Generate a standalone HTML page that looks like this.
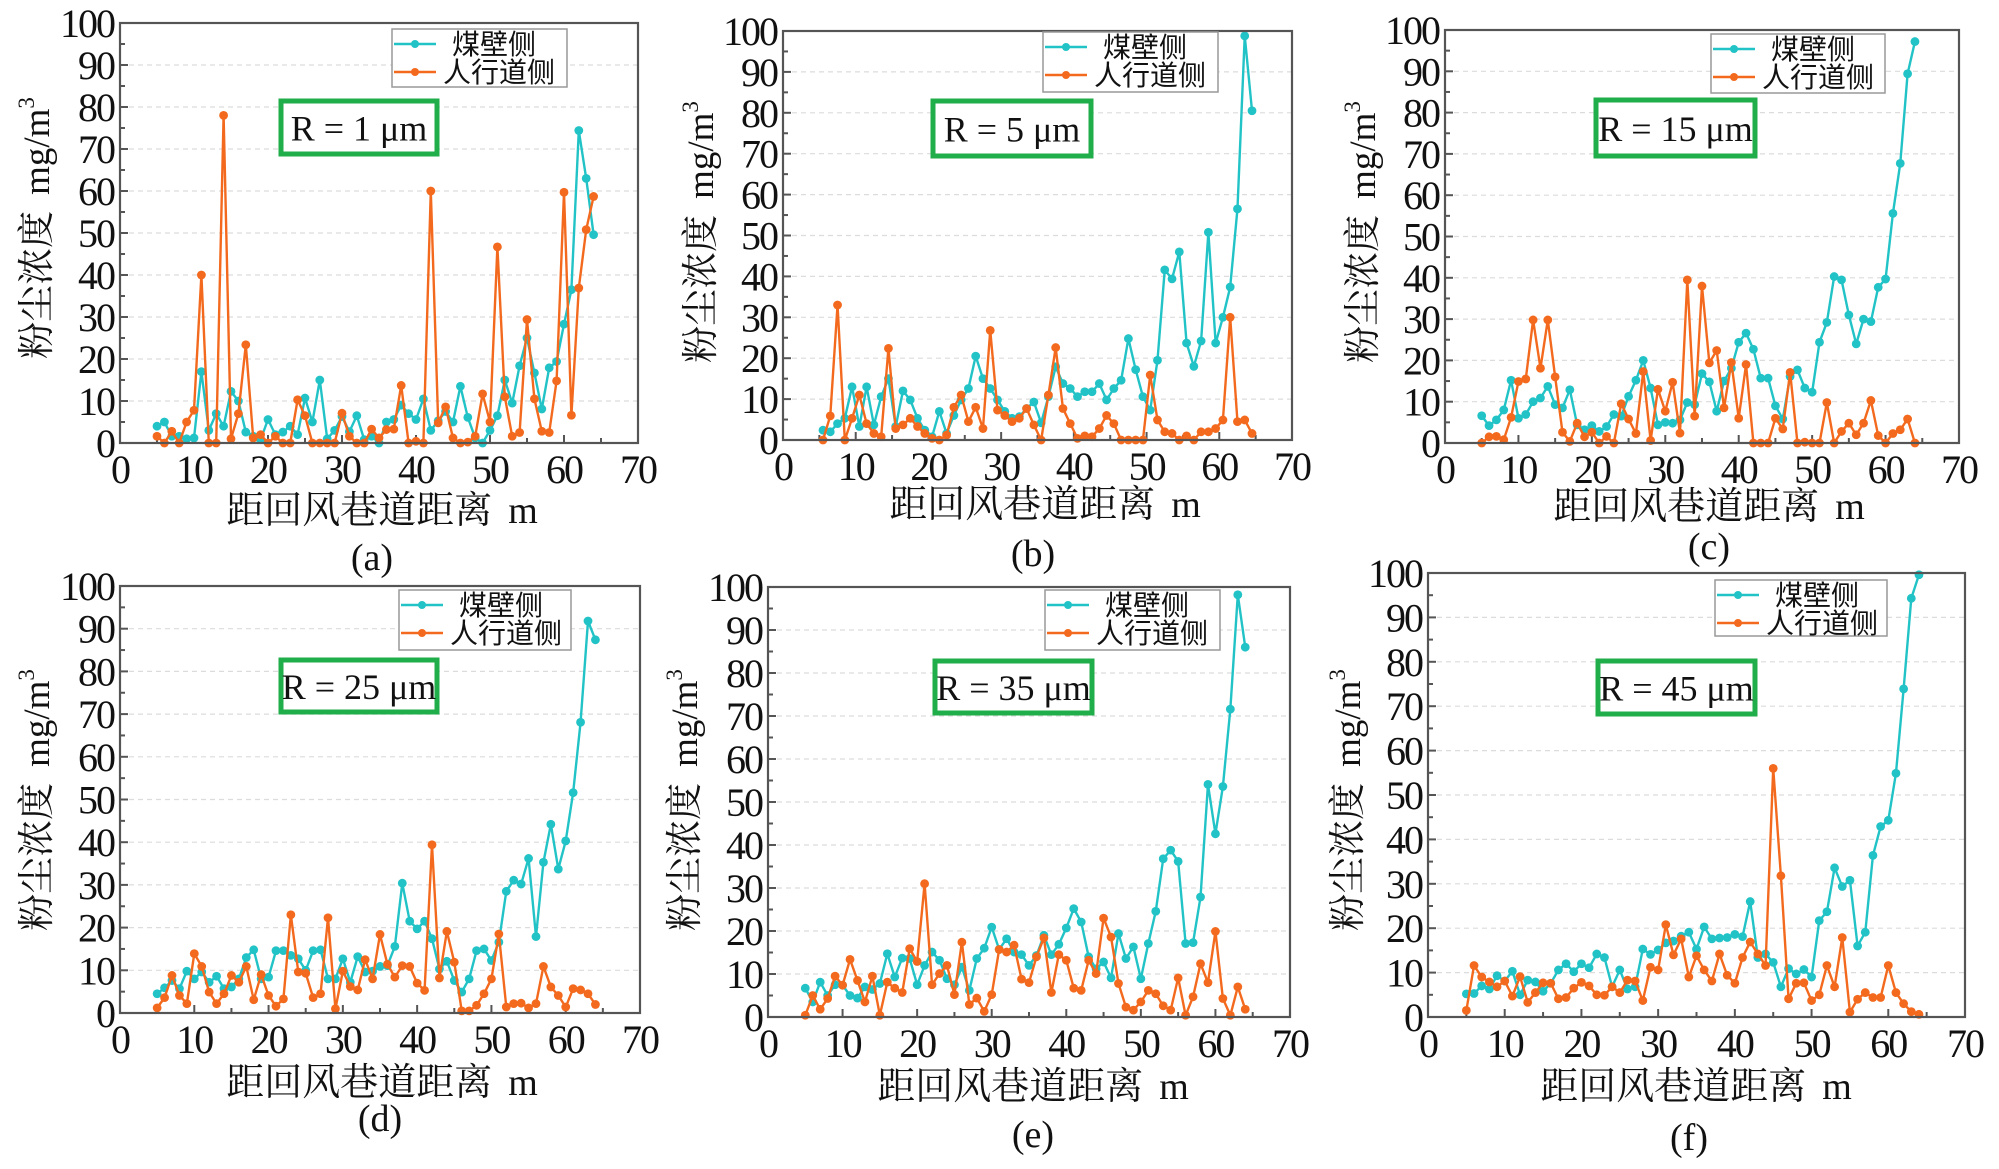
<!DOCTYPE html>
<html><head><meta charset="utf-8"><style>
html,body{margin:0;padding:0;background:#fff;}
svg{display:block;font-family:"Liberation Serif","Noto Serif CJK SC",serif;}
.cjk{font-family:"Noto Serif CJK SC","Liberation Serif",serif;}
.lgt{font-family:"Noto Sans CJK SC",sans-serif;}
</style></head><body>
<svg id="fig" width="1999" height="1169" viewBox="0 0 1999 1169" xmlns="http://www.w3.org/2000/svg"></svg>
<script>
const xTicks = [0,10,20,30,40,50,60,70];
const yTicks = [0,10,20,30,40,50,60,70,80,90,100];
const panelLabels = ["(a)","(b)","(c)","(d)","(e)","(f)"];
const radiusLabels = ["R = 1 μm","R = 5 μm","R = 15 μm","R = 25 μm","R = 35 μm","R = 45 μm"];
const seriesNames = ["煤壁侧","人行道侧"];
const xStart = [5,5.5,5,5,5,5];

const coalA = [4,5,1.6,1.6,1,1.2,17,3,7,4,12.3,10,2.6,1.6,0.8,5.6,2,2.6,4,2,10.7,5,15,1,3,6.3,2.7,6.5,0.8,1.6,0,5,5.6,9,7,5.6,10.5,3,5.3,7.5,5,13.5,6.1,1.2,0,3,6.5,15,9.5,18.4,25,16.7,8.1,17.9,19.4,28.3,36.5,74.4,63,49.6];
const walkA = [1.6,0,2.8,0,5,7.8,40,0,0,78,1,7,23.4,1.2,2,0,1.6,0,0,10.3,6.5,0,0,0,0,7.1,1.6,0,0,3.3,1.2,3.2,3.3,13.7,0,0.4,0,60,4.8,8.6,1.2,0,0.2,1.6,11.7,5,46.7,11,1.6,2.5,29.4,10.5,2.8,2.5,14.8,59.7,6.6,36.9,50.8,58.7];
const coalB = [2.4,2,4,5.3,13,3.3,13,3.7,10.6,15,3.3,12,9.8,5.3,2.4,0.8,7,1.6,6,9.8,12.6,20.5,15,12.6,9.8,7,5.3,5.7,7.7,9.3,4.2,10.6,17.9,13.8,12.6,10.6,11.8,11.8,13.8,9.8,12.6,14.6,24.8,17.2,10.6,7.3,19.5,41.6,39.4,46,23.7,18,24.2,50.8,23.7,30,37.4,56.5,98.8,80.5];
const walkB = [0,5.9,33,0,5.3,11,4,1.6,0.8,22.4,2.8,3.7,5.3,3.3,1.6,0.4,0,1.2,8,11,4.5,8,2.8,26.8,7.3,6,4.5,5.3,7.7,3.7,0,11,22.6,7.7,4,0.4,1,0.8,2.8,6,4,0,0,0,0,15.9,4.9,2,1.6,0,1,0,2,2,2.8,4.9,30,4.5,4.9,1.6];
const coalC = [6.6,4.2,5.6,8,15.2,6,6.9,10,10.9,13.7,9.3,8.5,12.9,4.4,3.2,4.2,2.8,4,6.9,6.5,11.3,15.2,20,13.3,4.4,5,4.8,5.6,9.8,9.3,16.8,14.8,7.7,15,18.1,24.4,26.6,22.7,15.7,15.7,9,5.8,16.1,17.7,13.3,12.3,24.4,29.2,40.3,39.5,31,24,30,29.4,37.7,39.7,55.6,67.7,89.4,97.2];
const walkC = [0,1.5,1.6,0.8,6.2,14.9,15.5,29.8,18.1,29.8,16,2.6,0.4,4.8,1.5,2.6,0,1.6,0,9.5,5.8,2.3,17.3,0.6,13,7.7,14.7,2.4,39.5,6.5,38,19.4,22.4,8.5,19.5,6,19,0,0,0,6,3.4,17.1,0,0.2,0,0,9.8,0,2.8,4.8,2,4.8,10.3,1.8,0,2.3,3.2,5.8,0];
const coalD = [4.5,5.9,7.6,5.7,9.8,8,9.6,7.2,8.6,5.7,6.1,8,13,14.8,8,8.4,14.6,14.6,13.5,12.7,10,14.6,14.8,8,8,12.7,7.2,13.2,9.6,9.8,10.9,11.1,15.6,30.4,21.5,19.7,21.5,17.4,10.3,12.1,7.6,4.9,8,14.6,15,12.3,16.6,28.5,31.1,30.2,36.2,17.9,35.3,44.2,33.7,40.3,51.6,68.1,91.8,87.4];
const walkD = [1.2,3.6,8.8,4.1,2.2,13.9,10.9,4.9,2.2,4.5,8.8,7.2,10.9,3.1,9,4.1,1.6,3.3,23,9.6,9.3,3.6,4.5,22.3,1,9.8,6.2,5.4,12.5,8,18.4,11.4,8.4,11.1,10.9,7,5.3,39.4,8.2,19.1,11.9,0.5,0.5,1.8,4.5,8,18.5,1.4,2.2,2.3,1.2,2.2,10.9,6.1,4.1,1.4,5.7,5.4,4.5,2];
const coalE = [6.7,3.5,8.1,5,7.5,7.4,5,4.4,7,6.4,7.8,14.7,9.3,13.7,13.6,7.5,12,15.1,13.2,8.9,7.5,11.6,6.2,13.6,16,20.9,15.7,18.2,15.1,14.5,12,14.3,19,14.5,16.9,20.7,25.2,22.1,14,11.2,12.8,9.1,19.4,13.6,16.3,8.9,17.1,24.6,36.8,38.8,36.2,17.1,17.3,27.9,54.1,42.6,53.6,71.6,98.2,86];
const walkE = [0.4,5,1.8,4.3,9.5,7.4,13.4,8.5,3.5,9.5,0.4,8.1,6.7,5.7,15.9,12.9,31,7.5,10.1,12,5.2,17.4,2.9,4.4,1.3,5.2,15.7,15.1,16.7,8.8,8,14,18.4,5.7,14.5,13.2,6.7,6.2,13.2,10.1,23,18.6,7.8,2.3,1.6,3.5,6.2,5.4,2.6,1.6,9.1,0.4,4.7,12.4,8,19.9,4.3,0.4,7,1.8];
const coalF = [5.2,5.3,7,6.3,9.3,8.1,10.3,5,8.3,7.9,5.8,7.6,10.6,12,10.2,12,11.1,14.2,13.4,6.8,10.6,6.3,6.8,15.3,14.1,15.1,16.7,17.1,18.2,19.1,15.3,20.3,17.6,17.8,17.9,18.6,18.1,26,13.4,14.2,12.3,6.8,10.9,9.7,10.7,9,21.7,23.7,33.6,29.4,30.8,16,19.1,36.4,42.9,44.3,54.9,73.9,94.3,99.6];
const walkF = [1.5,11.6,9,7.9,6.8,8.1,4.7,9.1,3.3,5.5,7.7,7.6,4.1,4.4,6.5,7.8,7,5,4.9,6.8,5.5,8.3,8.1,3.7,11.2,10.6,20.8,14,17.6,9,13.8,10.6,8.1,14.2,9.4,7.6,13.4,16.9,14.2,11.6,56,31.8,4.1,7.6,7.7,3.7,5,11.6,6.8,17.9,1.1,4,5.5,4.4,4.4,11.6,5.5,3,1.2,0.6];

const coalSeries = [coalA,coalB,coalC,coalD,coalE,coalF];
const walkSeries = [walkA,walkB,walkC,walkD,walkE,walkF];

// layout (not data)
const P = [
 {L:120,R:638,T:23,B:443, lg:[392,29,175,58], rb:[279,99,160,57], xt:[382,510], pl:[372,557], yt:[36,228]},
 {L:783,R:1292,T:31,B:440, lg:[1043,32,175,60], rb:[931,99,162,59], xt:[1045,504], pl:[1033,553], yt:[700,232]},
 {L:1445,R:1959,T:30,B:443, lg:[1711,34,174,59], rb:[1594,98,163,60], xt:[1709,506], pl:[1709,546], yt:[1362,232]},
 {L:120,R:640,T:586,B:1013, lg:[399,590,172,60], rb:[279,658,160,56], xt:[382,1082], pl:[380,1118], yt:[36,800]},
 {L:768,R:1290,T:587,B:1017, lg:[1045,590,175,60], rb:[933,659,161,56], xt:[1033,1086], pl:[1033,1134], yt:[684,800]},
 {L:1428,R:1965,T:573,B:1017, lg:[1715,580,172,56], rb:[1596,659,161,57], xt:[1696,1086], pl:[1689,1137], yt:[1347,800]}
];
const CY='#22c3c6', OR='#f36a1e';
const svg=document.getElementById('fig');
const NS='http://www.w3.org/2000/svg';
function mk(tag,attrs,parent){const e=document.createElementNS(NS,tag);for(const k in attrs)e.setAttribute(k,attrs[k]);(parent||svg).appendChild(e);return e;}

P.forEach((p,pi)=>{
  const g=mk('g',{});
  
  
  const xs=v=>p.L+(v-0)/70*(p.R-p.L);
  const ys=v=>p.B-(v/100)*(p.B-p.T);
  yTicks.forEach(t=>{ if(t>0&&t<100){const l=mk('line',{x1:p.L,x2:p.R,y1:ys(t),y2:ys(t),stroke:'#dcdcdc','stroke-width':1.2,'stroke-dasharray':'5,4'},g);
    
    }});
  yTicks.forEach(t=>{
    mk('line',{x1:p.L,x2:p.L+8,y1:ys(t),y2:ys(t),stroke:'#555','stroke-width':2},g);
    if(t<100) mk('line',{x1:p.L,x2:p.L+5,y1:ys(t+5),y2:ys(t+5),stroke:'#555','stroke-width':2},g);
    const tx=mk('text',{x:p.L-6,y:ys(t)+14,'text-anchor':'end','font-size':40,fill:'#111','letter-spacing':'-2'},g);
    tx.textContent=t;
    
    
  });
  xTicks.forEach(t=>{
    mk('line',{x1:xs(t),x2:xs(t),y1:p.B,y2:p.B-8,stroke:'#555','stroke-width':2},g);
    if(t<70) mk('line',{x1:xs(t+5),x2:xs(t+5),y1:p.B,y2:p.B-5,stroke:'#555','stroke-width':2},g);
    const tx=mk('text',{x:xs(t),y:p.B+40,'text-anchor':'middle','font-size':40,fill:'#111','letter-spacing':'-2'},g);
    tx.textContent=t;
    
    
  });
  [[coalSeries[pi],CY,'coal-wall-series'],[walkSeries[pi],OR,'walkway-series']].forEach(([vals,col,nm])=>{
    const pts=vals.map((v,i)=>[xs(xStart[pi]+i),ys(v)]);
    const pl=mk('polyline',{points:pts.map(q=>q.join(',')).join(' '),fill:'none',stroke:col,'stroke-width':2.4,'stroke-linejoin':'round'},g);
    
    
    pts.forEach(q=>{const c=mk('circle',{cx:q[0],cy:q[1],r:4.4,fill:col},g);
      
      });
  });
  const fr=mk('rect',{x:p.L,y:p.T,width:p.R-p.L,height:p.B-p.T,fill:'none',stroke:'#555','stroke-width':2.2},g);
  
  
  const [lx,ly,lw,lh]=p.lg;
  const lg=mk('g',{},g);
  
  
  mk('rect',{x:lx,y:ly,width:lw,height:lh,fill:'#fff',stroke:'#999','stroke-width':1.5},lg);
  [[CY,seriesNames[0],15,60],[OR,seriesNames[1],43,51]].forEach(([col,txt,dy,tx0])=>{
    mk('line',{x1:lx+2,x2:lx+44,y1:ly+dy,y2:ly+dy,stroke:col,'stroke-width':2.4},lg);
    mk('circle',{cx:lx+23,cy:ly+dy,r:4,fill:col},lg);
    const t=mk('text',{x:lx+tx0,y:ly+dy+10,'font-size':28,fill:'#111','class':'lgt'},lg);
    t.textContent=txt;
    
    
  });
  const [rx,ry,rw,rh]=p.rb;
  const rb=mk('rect',{x:rx+2,y:ry+2,width:rw-4,height:rh-4,fill:'#fff',stroke:'#1fae4a','stroke-width':5},g);
  
  
  const rt=mk('text',{x:rx+rw/2,y:ry+rh/2+13,'text-anchor':'middle','font-size':36,fill:'#111'},g);
  rt.textContent=radiusLabels[pi];
  
  
  const xt=mk('text',{x:p.xt[0],y:p.xt[1]+13,'text-anchor':'middle','font-size':38,fill:'#111'},g);
  xt.innerHTML='<tspan class="cjk">距回风巷道距离</tspan><tspan dx="16">m</tspan>';
  
  
  const yt=mk('text',{x:0,y:0,'text-anchor':'middle','font-size':37,fill:'#111',transform:`translate(${p.yt[0]+13},${p.yt[1]}) rotate(-90)`},g);
  yt.innerHTML='<tspan class="cjk">粉尘浓度</tspan><tspan dx="16">mg/m</tspan><tspan dy="-15" font-size="23">3</tspan>';
  
  
  const lb=mk('text',{x:p.pl[0],y:p.pl[1]+13,'text-anchor':'middle','font-size':38,fill:'#111'},g);
  lb.textContent=panelLabels[pi];
  
  
});
</script>
</body></html>
